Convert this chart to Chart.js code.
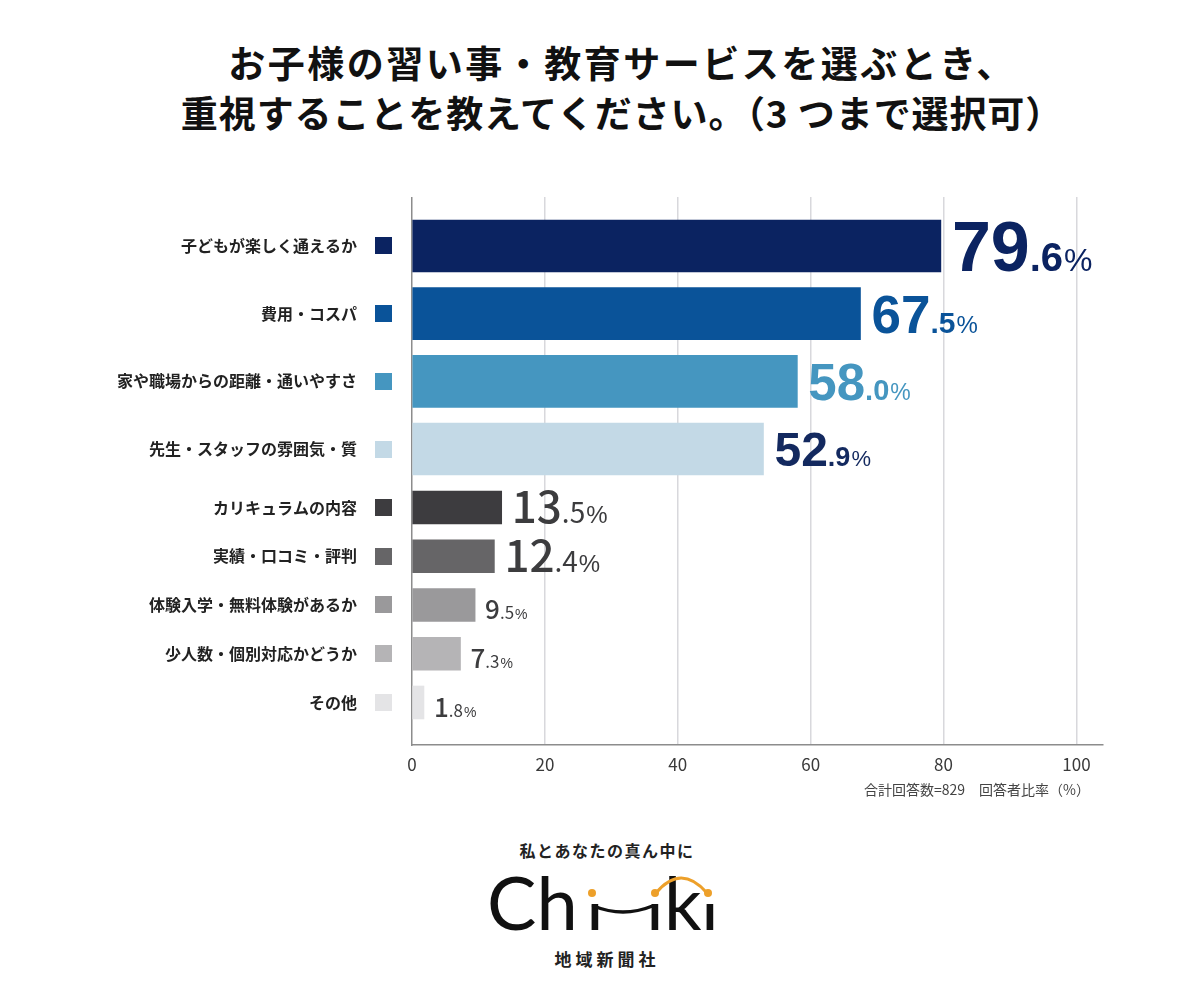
<!DOCTYPE html>
<html lang="ja">
<head>
<meta charset="utf-8">
<script src="https://cdn.jsdelivr.net/npm/chart.js@4/dist/chart.umd.min.js"></script>
<style>
  html, body { margin: 0; padding: 0; background: #ffffff; }
  body { width: 1200px; height: 1000px; position: relative; overflow: hidden; font-family: "Noto Sans CJK JP", "Noto Sans", sans-serif; }
  .title { position: absolute; left: 44px; width: 1156px; text-align: center; font-weight: 700; font-size: 37px; color: #111; white-space: nowrap; line-height: 1; }
  #t1 { top: 44px; letter-spacing: 2.5px; }
  #t2 { top: 94px; letter-spacing: 0.9px; }
  .box { position: absolute; left: 0; width: 1200px; }
  #topBox { top: 197px; height: 283px; }
  #botBox { top: 480px; height: 315px; }
  #note { position: absolute; right: 110px; top: 779px; font-size: 14px; color: #444; white-space: nowrap; }
  #tag { position: absolute; left: 0; width: 1200px; top: 838px; text-align: center; font-size: 16px; font-weight: 700; color: #222; letter-spacing: 1.5px; padding-left: 14px; box-sizing: border-box; }
  #co { position: absolute; left: 0; width: 1200px; top: 946px; text-align: center; font-size: 17px; font-weight: 700; color: #222; letter-spacing: 4px; padding-left: 14px; box-sizing: border-box; }
  #logo { position: absolute; left: 0; top: 860px; }
</style>
</head>
<body>
<div class="title" id="t1">お子様の習い事・教育サービスを選ぶとき、</div>
<div class="title" id="t2">重視することを教えてください。（3 つまで選択可）</div>
<div class="box" id="topBox"><canvas id="cTop"></canvas></div>
<div class="box" id="botBox"><canvas id="cBot"></canvas></div>
<div id="note">合計回答数=829　回答者比率（%）</div>
<div id="tag">私とあなたの真ん中に</div>
<svg id="logo" width="1200" height="85" viewBox="0 0 1200 85">
  <text x="487" y="70" font-family="Lato, 'Open Sans', sans-serif" font-size="74" font-weight="400" fill="#111">Ch</text>
  <text transform="translate(586,70) scale(1,0.68)" font-family="Lato, 'Open Sans', sans-serif" font-size="74" font-weight="400" fill="#111">ı</text>
  <text transform="translate(646,70) scale(1,0.68)" font-family="Lato, 'Open Sans', sans-serif" font-size="74" font-weight="400" fill="#111">ı</text>
  <text x="664" y="70" font-family="Lato, 'Open Sans', sans-serif" font-size="74" font-weight="400" fill="#111">k</text>
  <text transform="translate(701,70) scale(1,0.68)" font-family="Lato, 'Open Sans', sans-serif" font-size="74" font-weight="400" fill="#111">ı</text>
  <path d="M593.5 46 Q623 58 652.5 46" stroke="#111" stroke-width="3.4" fill="none" stroke-linecap="round"/>
  <path d="M656 33 Q681 3 707 33" stroke="#eda02a" stroke-width="3.2" fill="none" stroke-linecap="round"/>
  <circle cx="592" cy="33" r="4" fill="#eda02a"/>
  <circle cx="655" cy="33" r="4" fill="#eda02a"/>
  <circle cx="708" cy="33" r="4" fill="#eda02a"/>
</svg>
<div id="co">地域新聞社</div>
<script>
// ---- data ----
const topLabels = ["子どもが楽しく通えるか", "費用・コスパ", "家や職場からの距離・通いやすさ", "先生・スタッフの雰囲気・質"];
const topValues = [79.6, 67.5, 58.0, 52.9];
const botLabels = ["カリキュラムの内容", "実績・口コミ・評判", "体験入学・無料体験があるか", "少人数・個別対応かどうか", "その他"];
const botValues = [13.5, 12.4, 9.5, 7.3, 1.8];
const xTickValues = [0, 20, 40, 60, 80, 100];
const noteText = "合計回答数=829　回答者比率（%）";

// ---- styles ----
const topColors = ["#0b2361", "#0a5399", "#4596c0", "#c3d9e6"];
const botColors = ["#3d3c3f", "#666567", "#9a999b", "#b5b4b6", "#e4e4e6"];
const topLabelColors = ["#0b2361", "#0a5399", "#4596c0", "#13295f"];
const topLabelSizes = [70, 53, 51, 48];
const botLabelSizes = [44, 44, 26, 26, 26];

const AXIS_W = 412;
const GRID = "#d8d8dc";
const AXIS = "#8c8c8c";

function labelPlugin(kind, labels, colors, sizes, textColors) {
  return {
    id: "vals_" + kind,
    afterDatasetsDraw(chart) {
      const ctx = chart.ctx;
      const meta = chart.getDatasetMeta(0);
      const ys = chart.scales.y;
      ctx.save();
      // legend squares next to category labels
      labels.forEach((l, i) => {
        const py = ys.getPixelForValue(i);
        ctx.fillStyle = colors[i];
        ctx.fillRect(375, Math.round(py - 8.5), 17, 17);
      });
      // value labels
      meta.data.forEach((bar, i) => {
        const v = chart.data.datasets[0].data[i].x;
        const parts = v.toFixed(1).split(".");
        const size = sizes[i];
        const big = kind === "top";
        const fam = big ? '"Liberation Sans", Arial, sans-serif' : '"Noto Sans CJK JP", "Noto Sans", sans-serif';
        const decRatio = big ? 0.57 : 0.64;
        const pctRatio = big ? 0.46 : 0.55;
        const wInt = big ? 700 : 500;
        const wDec = big ? 700 : 400;
        let x = bar.x + (big ? 11 : 10);
        const yb = bar.y + size * 0.36 + (size < 30 ? 5 : 0);
        ctx.fillStyle = textColors[i];
        ctx.textBaseline = "alphabetic";
        ctx.textAlign = "left";
        ctx.font = `${wInt} ${size}px ${fam}`;
        ctx.fillText(parts[0], x, yb);
        x += ctx.measureText(parts[0]).width;
        ctx.font = `${wDec} ${Math.round(size * decRatio)}px ${fam}`;
        ctx.fillText("." + parts[1], x, yb);
        x += ctx.measureText("." + parts[1]).width + 1;
        ctx.font = `400 ${Math.round(size * pctRatio)}px "Liberation Sans", Arial, sans-serif`;
        ctx.fillText("%", x, yb);
      });
      ctx.restore();
    }
  };
}

function makeChart(id, kind, labels, values, colors, sizes, textColors, yMin, yMax, barT, showX) {
  return new Chart(document.getElementById(id), {
    type: "bar",
    data: {
      datasets: [{
        data: values.map((v, i) => ({ x: v, y: i })),
        backgroundColor: colors,
        borderWidth: 0,
        barThickness: barT
      }]
    },
    options: {
      indexAxis: "y",
      responsive: true,
      maintainAspectRatio: false,
      animation: false,
      layout: { padding: { left: 0, right: 97, top: 0, bottom: 0 } },
      plugins: { legend: { display: false }, tooltip: { enabled: false } },
      scales: {
        x: {
          type: "linear",
          min: 0,
          max: 104,
          afterBuildTicks(s) { s.ticks = xTickValues.map(v => ({ value: v })); },
          afterFit(s) { s.height = showX ? 50 : 0; s.paddingLeft = 0; s.paddingRight = 0; },
          grid: {
            drawTicks: false,
            lineWidth: 1.5,
            color: (c) => (c.tick && c.tick.value === 0) ? "rgba(0,0,0,0)" : GRID
          },
          border: { display: showX, color: AXIS, width: 1.5 },
          ticks: {
            display: showX,
            padding: 9,
            color: "#3a3a3a",
            font: { family: '"Noto Sans CJK JP", "Noto Sans", sans-serif', size: 17 }
          }
        },
        y: {
          type: "linear",
          reverse: true,
          offset: false,
          min: yMin,
          max: yMax,
          afterBuildTicks(s) { s.ticks = labels.map((_, i) => ({ value: i })); },
          afterFit(s) { s.width = AXIS_W; s.paddingTop = 0; s.paddingBottom = 0; },
          grid: { display: false, drawTicks: false, offset: false },
          border: { display: true, color: AXIS, width: 1.5 },
          ticks: {
            padding: 55,
            color: "#222",
            font: { family: '"Noto Sans CJK JP", "Noto Sans", sans-serif', size: 16, weight: "bold" },
            callback: (v) => labels[v]
          }
        }
      }
    },
    plugins: [labelPlugin(kind, labels, colors, sizes, textColors)]
  });
}

makeChart("cTop", "top", topLabels, topValues, topColors, topLabelSizes, topLabelColors, -0.724, 3.458, 52, false);
makeChart("cBot", "bot", botLabels, botValues, botColors, botLabelSizes, botValues.map(() => "#3c3c3e"), -0.564, 4.872, 33, true);
</script>
</body>
</html>
